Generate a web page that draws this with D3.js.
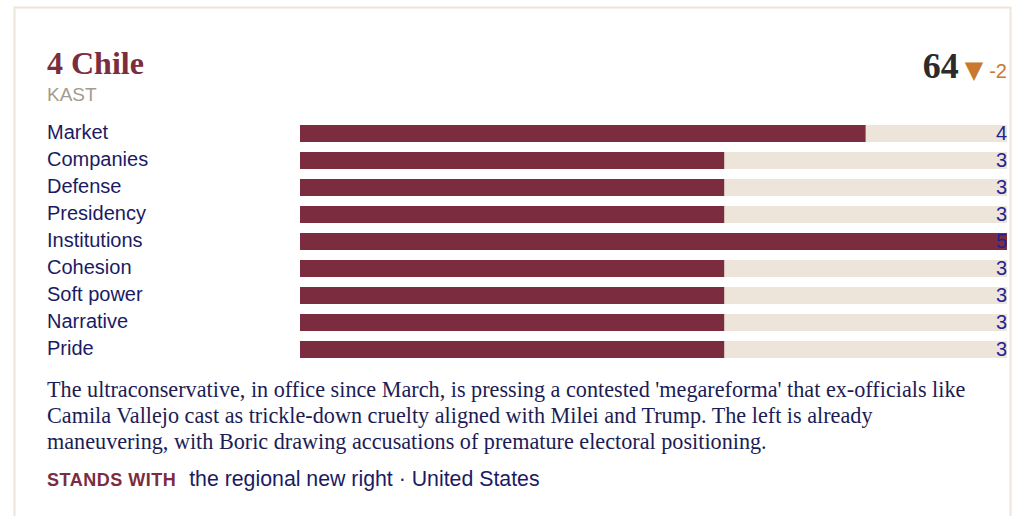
<!DOCTYPE html>
<html><head><meta charset="utf-8">
<script src="https://cdn.jsdelivr.net/npm/d3@7"></script>
<style>
html,body{margin:0;padding:0;background:#fff;overflow:hidden;}
</style></head>
<body>
<svg id="chart" width="1023" height="516"></svg>
<script>
const categories = ["Market","Companies","Defense","Presidency","Institutions","Cohesion","Soft power","Narrative","Pride"];
const values = [4,3,3,3,5,3,3,3,3];
const maxValue = 5;
const title = "4 Chile";
const subtitle = "KAST";
const score = 64;
const change = -2;
const description = ["The ultraconservative, in office since March, is pressing a contested 'megareforma' that ex-officials like",
 "Camila Vallejo cast as trickle-down cruelty aligned with Milei and Trump. The left is already",
 "maneuvering, with Boric drawing accusations of premature electoral positioning."];
const standsLabel = "STANDS WITH";
const standsWith = ["the regional new right","United States"];

const svg = d3.select("#chart");
const maroon = "#7b2d3f", track = "#ede4da", navy = "#1b1b63";

// card border
svg.append("rect").attr("x",14.5).attr("y",7.5).attr("width",996).attr("height",530)
  .attr("fill","#fff").attr("stroke","#ece5d8").attr("stroke-width",2);

svg.append("text").attr("x",47).attr("y",74).text(title)
  .attr("font-family","Liberation Serif, Times New Roman, serif").attr("font-weight","bold")
  .attr("font-size",32).attr("fill",maroon);
svg.append("text").attr("x",47).attr("y",101).text(subtitle)
  .attr("font-family","Liberation Sans, Arial, sans-serif").attr("font-size",19).attr("fill","#a39b8f");

const sc = svg.append("text").attr("x",1007).attr("y",78).attr("text-anchor","end");
sc.append("tspan").text(score).attr("font-family","Liberation Serif, serif").attr("font-weight","bold")
  .attr("font-size",36).attr("fill","#2b2b2b");
sc.append("tspan").attr("dx",6).text("▼").attr("font-family","DejaVu Sans, sans-serif").attr("font-size",24).attr("fill","#c8782f");
sc.append("tspan").attr("dx",6).text(change).attr("font-family","Liberation Sans, Arial, sans-serif").attr("font-size",20).attr("fill","#c8782f");

const n = categories.length, step = 27, bh = 17;
const x = d3.scaleLinear().domain([0,maxValue]).range([300,1007]);
const y = d3.scaleBand().domain(categories).range([125,125+step*n-(step-bh)]).paddingInner((step-bh)/step).paddingOuter(0);
const rows = svg.append("g").selectAll("g").data(categories).join("g");
rows.append("rect").attr("x",x(0)).attr("y",d=>y(d)).attr("width",x(maxValue)-x(0)).attr("height",y.bandwidth()).attr("fill",track);
rows.append("rect").attr("x",x(0)).attr("y",d=>y(d)).attr("width",(d,i)=>x(values[i])-x(0)).attr("height",y.bandwidth()).attr("fill",maroon);
rows.append("text").attr("x",47).attr("y",d=>y(d)+14).text(d=>d)
  .attr("font-family","Liberation Sans, Arial, sans-serif").attr("font-size",20).attr("fill",navy);
rows.append("text").attr("x",1007).attr("y",d=>y(d)+15).attr("text-anchor","end").text((d,i)=>values[i])
  .attr("font-family","Liberation Sans, Arial, sans-serif").attr("font-size",20).attr("fill","#1f2494");

svg.append("g").selectAll("text").data(description).join("text")
  .attr("x",47).attr("y",(d,i)=>397+i*26).text(d=>d)
  .attr("font-family","Liberation Serif, Times New Roman, serif").attr("font-size",22.2).attr("fill","#1c1c55");

const sw = svg.append("text").attr("x",47).attr("y",486);
sw.append("tspan").text(standsLabel).attr("font-family","Liberation Sans, Arial, sans-serif").attr("font-weight","bold")
  .attr("font-size",18).attr("letter-spacing",0.5).attr("fill",maroon);
sw.append("tspan").attr("dx",13).text(standsWith.join(" · ")).attr("font-family","Liberation Sans, Arial, sans-serif")
  .attr("font-size",21.3).attr("letter-spacing",0).attr("fill",navy);
</script>
</body></html>
